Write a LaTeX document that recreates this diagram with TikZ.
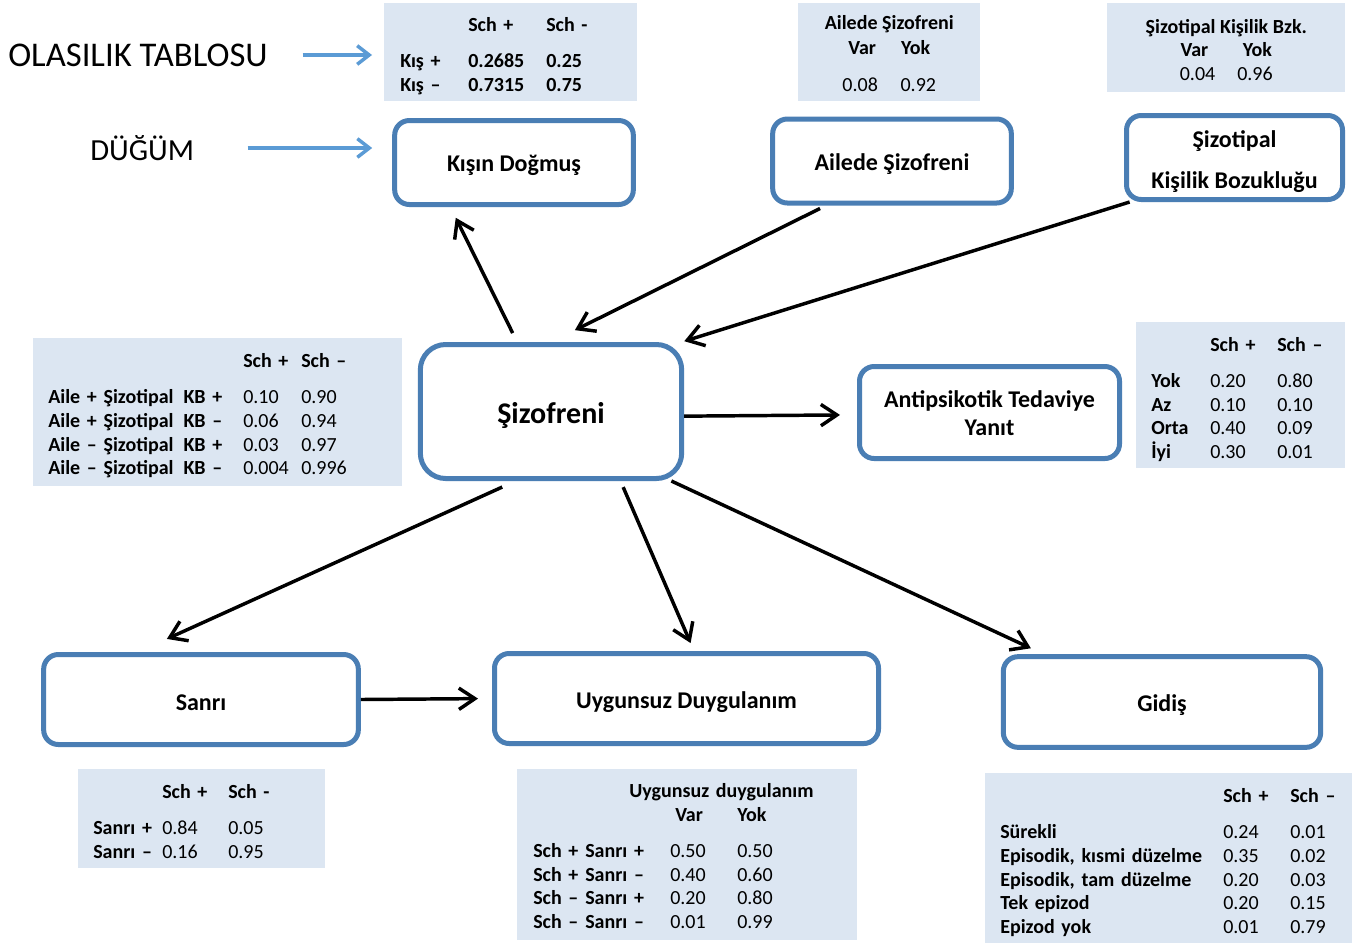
\documentclass[tikz,border=0pt]{standalone}
\usepackage{fontspec}
\setmainfont{Carlito}
\usepackage{array}
\usepackage{tikz}
\usetikzlibrary{arrows.meta}

\definecolor{kenar}{RGB}{74,126,180}
\definecolor{tablozemin}{RGB}{220,230,242}
\definecolor{okmavi}{RGB}{91,155,213}

\newcommand{\tabfont}{\fontsize{15}{17.75}\selectfont\bfseries}
\newcolumntype{N}[1]{>{\mdseries}p{#1}}
\newcolumntype{M}{>{\mdseries}l}
% icerigi kutu icinde #1/2 kadar asagi kaydirir
\newcommand{\asagi}[2]{\raisebox{0pt}[\dimexpr\height+#1\relax]{#2}}

\begin{document}
\begin{tikzpicture}[
    x=0.75pt, y=-0.75pt,
    box/.style={
        rectangle, rounded corners=11pt,
        draw=kenar, line width=3.75pt, fill=white,
        minimum height=63pt, inner sep=0pt,
        align=center,
        font=\fontsize{18}{21}\selectfont\bfseries
    },
    tablo/.style={
        rectangle, fill=tablozemin, anchor=north west,
        inner xsep=11.25pt, inner ysep=0pt,
        align=left, font=\tabfont
    },
    arrow/.style={-{Straight Barb[length=12pt,width=16pt]}, line width=2.6pt}, % siyah oklar
    hint/.style={-{Straight Barb[length=9pt,width=14pt]}, line width=2.6pt, draw=okmavi},
    label/.style={inner sep=0pt, anchor=west}
]
\path[use as bounding box, fill=white] (0,0) rectangle (1358,946);

% --- DÜĞÜMLER ---
\node[box, minimum width=179pt] (kis) at (514,162.5) {\asagi{5pt}{Kışın Doğmuş}};
\node[box, minimum width=179pt] (ail) at (892,161) {\asagi{5pt}{Ailede Şizofreni}};
\node[box, minimum width=162pt] (shiz) at (1234.5,157.5)
  {\asagi{7.6pt}{\begin{tabular}{@{}c@{}}Şizotipal\\[9.75pt]Kişilik Bozukluğu\end{tabular}}};
\node[box, minimum width=196pt, minimum height=100.5pt, rounded corners=19pt,
      font=\fontsize{22.5}{27}\selectfont\bfseries] (sch) at (551,411.5) {\asagi{6pt}{Şizofreni}};
\node[box, minimum width=195pt, minimum height=69pt] (anti) at (989.5,412.5)
  {\asagi{5.4pt}{\begin{tabular}{@{}c@{}}Antipsikotik Tedaviye\\Yanıt\end{tabular}}};
\node[box, minimum width=236pt, minimum height=67.5pt] (sanri) at (201,699.5) {\asagi{5pt}{Sanrı}};
\node[box, minimum width=288pt, minimum height=67.5pt] (uyg) at (686.5,698.5) {\asagi{5pt}{Uygunsuz Duygulanım}};
\node[box, minimum width=238pt, minimum height=68pt] (gidis) at (1162,702) {\asagi{5pt}{Gidiş}};

% --- OLASILIK TABLOLARI ---
\node[tablo, inner xsep=12pt, text width=165.75pt, minimum height=73.5pt] (kistab) at (384,3) {%
  \asagi{6pt}{\begin{tabular}{@{}p{51pt}@{}p{58.5pt}@{}l@{}}
    & Sch + & Sch -\\[9.5pt]
    Kış + & 0.2685 & 0.25\\
    Kış – & 0.7315 & 0.75
  \end{tabular}}};

\node[tablo, align=center, minimum width=136.5pt, minimum height=73.5pt] (ailtab) at (798,3) {%
  \asagi{5.6pt}{\begin{tabular}{@{}c@{}}
    Ailede Şizofreni\\[1pt]
    Var\hspace{18.75pt}Yok\\[10pt]
    \mdseries 0.08\hspace{17pt}0.92
  \end{tabular}}};

\node[tablo, align=center, minimum width=178.5pt, minimum height=66.75pt] (shiztab) at (1107,3) {%
  \asagi{6.4pt}{\begin{tabular}{@{}c@{}}
    Şizotipal Kişilik Bzk.\\
    Var\hspace{26pt}Yok\\
    \mdseries 0.04\hspace{16.5pt}0.96
  \end{tabular}}};

\node[tablo, text width=254.25pt, minimum height=111pt] (schtab) at (33,338) {%
  \asagi{6pt}{\begin{tabular}{@{}p{146.25pt}@{}N{43.5pt}@{}M@{}}
    & \textbf{Sch +} & \textbf{Sch –}\\[9.5pt]
    Aile + Şizotipal\enspace KB + & 0.10 & 0.90\\
    Aile + Şizotipal\enspace KB – & 0.06 & 0.94\\
    Aile – Şizotipal\enspace KB + & 0.03 & 0.97\\
    Aile – Şizotipal\enspace KB – & 0.004 & 0.996
  \end{tabular}}};

\node[tablo, text width=134.25pt, minimum height=109.5pt] (antitab) at (1136,322) {%
  \asagi{7.5pt}{\begin{tabular}{@{}p{44.25pt}@{}N{50.25pt}@{}M@{}}
    & \textbf{Sch +} & \textbf{Sch –}\\[9.5pt]
    Yok & 0.20 & 0.80\\
    Az & 0.10 & 0.10\\
    Orta & 0.40 & 0.09\\
    İyi & 0.30 & 0.01
  \end{tabular}}};

\node[tablo, text width=162.75pt, minimum height=74.25pt] (sanritab) at (78,769) {%
  \asagi{6.75pt}{\begin{tabular}{@{}p{51.75pt}@{}N{49.5pt}@{}M@{}}
    & \textbf{Sch +} & \textbf{Sch -}\\[9.5pt]
    Sanrı + & 0.84 & 0.05\\
    Sanrı – & 0.16 & 0.95
  \end{tabular}}};

\node[tablo, inner xsep=12pt, text width=231pt, minimum height=128.25pt] (uygtab) at (517,769) {%
  \asagi{5.25pt}{\begin{tabular}{@{}p{39pt}@{}p{63.75pt}@{}N{50.25pt}@{}M@{}}
    \multicolumn{4}{@{\hspace{72pt}}l@{}}{Uygunsuz duygulanım}\\
    & & \hspace{3.75pt}\textbf{Var} & \textbf{Yok}\\[9.5pt]
    Sch + & Sanrı + & 0.50 & 0.50\\
    Sch + & Sanrı – & 0.40 & 0.60\\
    Sch – & Sanrı + & 0.20 & 0.80\\
    Sch – & Sanrı – & 0.01 & 0.99
  \end{tabular}}};

\node[tablo, text width=252.75pt, minimum height=127.5pt] (gidistab) at (985,773) {%
  \asagi{7.5pt}{\begin{tabular}{@{}p{167.25pt}@{}N{50.25pt}@{}M@{}}
    & \textbf{Sch +} & \textbf{Sch –}\\[9.5pt]
    Sürekli & 0.24 & 0.01\\
    Episodik, kısmi düzelme & 0.35 & 0.02\\
    Episodik, tam düzelme & 0.20 & 0.03\\
    Tek epizod & 0.20 & 0.15\\
    Epizod yok & 0.01 & 0.79
  \end{tabular}}};

% --- AÇIKLAMALAR ---
\node[label, font=\fontsize{26}{30}\selectfont] (olas) at (8,55) {OLASILIK TABLOSU};
\node[label, font=\fontsize{23}{28}\selectfont] (dugum) at (90,148) {DÜĞÜM};

% --- OKLAR ---
\draw[arrow, shorten <=7.5pt, shorten >=9pt] (sch.116.5) -- (kis.215.5);
\draw[arrow, shorten <=5pt, shorten >=20pt] (ail.214.5) -- (sch.north);
\draw[arrow, shorten >=2pt] (shiz.203) -- (sch.28);
\draw[arrow, shorten >=12.75pt] (sch.-2) -- (anti.181.5);
\draw[arrow, shorten <=11pt, shorten >=23.8pt] (sch.243.5) -- (sanri.143.8);
\draw[arrow, shorten <=5pt, shorten >=6.5pt] (sch.315.4) -- (uyg.81.7);
\draw[arrow, shorten >=10.5pt] (sch.330.5) -- (gidis.158.1);
\draw[arrow, shorten >=10.5pt] (sanri.east) -- (uyg.west);

% mavi işaret okları
\draw[hint, shorten <=26pt, shorten >=9pt] (olas.east) -- (olas.east -| kistab.west);
\draw[hint, shorten <=40pt, shorten >=15pt] (dugum.east) -- (dugum.east -| kis.west);

\end{tikzpicture}
\end{document}
